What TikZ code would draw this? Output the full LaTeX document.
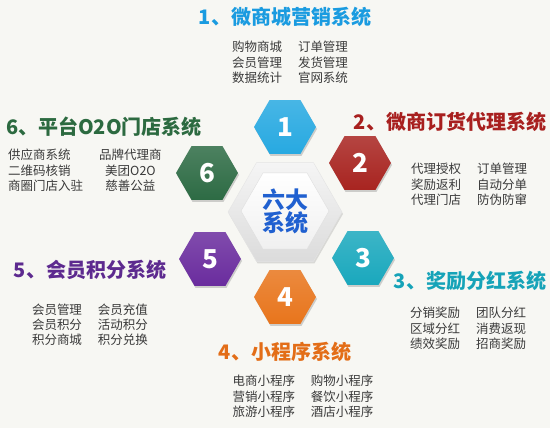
\documentclass[tikz,border=0pt]{standalone}
\usepackage{fontspec}
\setmainfont{Noto Sans CJK SC}
\usetikzlibrary{shapes.geometric,shadows}
\definecolor{bg}{HTML}{F7F7F3}
\definecolor{cA}{HTML}{27A9E1}
\definecolor{cB}{HTML}{A82420}
\definecolor{cC}{HTML}{1AA8BD}
\definecolor{cD}{HTML}{E8751C}
\definecolor{cE}{HTML}{6A2C9E}
\definecolor{cF}{HTML}{2D6B44}
\definecolor{tA}{HTML}{1A9BE0}
\definecolor{tB}{HTML}{A8201F}
\definecolor{tC}{HTML}{16A3B8}
\definecolor{tD}{HTML}{E36D17}
\definecolor{tE}{HTML}{5D2A8F}
\definecolor{tF}{HTML}{2C6A40}
\definecolor{itemc}{HTML}{3A3A3A}
\definecolor{cent}{HTML}{2060D0}
\tikzset{
  hexa/.style={regular polygon, regular polygon sides=6, minimum size=62pt, inner sep=0pt,
    text=white, font=\fontsize{26}{28}\selectfont\bfseries,
    drop shadow={opacity=0.35, shadow xshift=1pt, shadow yshift=-2pt}},
  ttl/.style={font=\fontsize{20}{22}\selectfont\bfseries, inner sep=0pt},
  items/.style={font=\fontsize{12.5}{15}\selectfont, text=itemc, inner sep=0pt}
}
\newcommand{\itemtab}[1]{\begin{tabular}{@{}l@{\hspace{16pt}}c@{}}#1\end{tabular}}
\begin{document}
\begin{tikzpicture}[x=1pt,y=-1pt]
\fill[bg] (0,0) rectangle (550,428);
\useasboundingbox (0,0) rectangle (550,428);
% centre
\node[regular polygon, regular polygon sides=6, minimum size=114pt, inner sep=0pt,
  top color=white!92!gray, bottom color=white!72!gray, draw=white!80!gray,
  drop shadow={opacity=0.25, shadow xshift=1pt, shadow yshift=-2pt}] (cout) at (285,212) {};
\node[regular polygon, regular polygon sides=6, minimum size=88pt, inner sep=0pt,
  top color=white, bottom color=white!88!gray, draw=white!75!gray] (cin) at (285,211) {};
\node[font=\fontsize{23}{22}\selectfont\bfseries, text=cent, align=center, inner sep=0pt] (ctext) at (285,211) {六大\\系统};
% hexagons
\node[hexa, top color=cA!85!white, bottom color=cA] (h1) at (285,127) {1};
\node[hexa, top color=cB!85!white, bottom color=cB] (h2) at (360,163) {2};
\node[hexa, top color=cC!85!white, bottom color=cC] (h3) at (363,258) {3};
\node[hexa, top color=cD!85!white, bottom color=cD] (h4) at (285,297) {4};
\node[hexa, top color=cE!85!white, bottom color=cE] (h5) at (210,259) {5};
\node[hexa, top color=cF!85!white, bottom color=cF] (h6) at (207,173) {6};
% titles
\node[ttl, text=tA] (t1) at (285,17) {1、微商城营销系统};
\node[ttl, text=tB] (t2) at (450,122) {2、微商订货代理系统};
\node[ttl, text=tC] (t3) at (470,281) {3、奖励分红系统};
\node[ttl, text=tD] (t4) at (285,352) {4、小程序系统};
\node[ttl, text=tE] (t5) at (90,270) {5、会员积分系统};
\node[ttl, text=tF] (t6) at (104,127) {6、平台O2O门店系统};
% item lists
\node[items] (i1) at (290,64) {\itemtab{购物商城 & 订单管理\\ 会员管理 & 发货管理\\ 数据统计 & 官网系统}};
\node[items] (i2) at (469,186) {\itemtab{代理授权 & 订单管理\\ 奖励返利 & 自动分单\\ 代理门店 & 防伪防窜}};
\node[items] (i3) at (468,330) {\itemtab{分销奖励 & 团队分红\\ 区域分红 & 消费返现\\ 绩效奖励 & 招商奖励}};
\node[items] (i4) at (303,398) {\itemtab{电商小程序 & 购物小程序\\ 营销小程序 & 餐饮小程序\\ 旅游小程序 & 酒店小程序}};
\node[items] (i5) at (90,326) {\itemtab{会员管理 & 会员充值\\ 会员积分 & 活动积分\\ 积分商城 & 积分兑换}};
\node[items] (i6) at (85,172) {\itemtab{供应商系统 & 品牌代理商\\ 二维码核销 & 美团O2O\\ 商圈门店入驻 & 慈善公益}};
\end{tikzpicture}
\end{document}
